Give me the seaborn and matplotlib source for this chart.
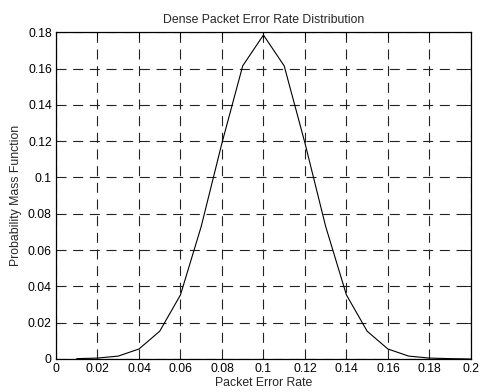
import numpy as np
import pandas as pd
import seaborn as sns
import matplotlib.pyplot as plt

# packet error rate vs pmf
per = [0.01, 0.02, 0.03, 0.04, 0.05, 0.06, 0.07, 0.08, 0.09, 0.10,
       0.11, 0.12, 0.13, 0.14, 0.15, 0.16, 0.17, 0.18, 0.19, 0.20]
pmf = [0.0002, 0.0005, 0.0016, 0.0055, 0.0153, 0.0353, 0.0730, 0.1190, 0.1615, 0.1785,
       0.1615, 0.1190, 0.0730, 0.0353, 0.0153, 0.0055, 0.0016, 0.0005, 0.0002, 0.0000]
xticks = [0, 0.02, 0.04, 0.06, 0.08, 0.1, 0.12, 0.14, 0.16, 0.18, 0.2]
yticks = [0, 0.02, 0.04, 0.06, 0.08, 0.1, 0.12, 0.14, 0.16, 0.18]

df = pd.DataFrame({'per': per, 'pmf': pmf})

sns.set_style('white')
plt.rcParams['font.family'] = ['Liberation Sans', 'DejaVu Sans']
plt.rcParams['font.size'] = 8.8

fig = plt.figure(figsize=(4.81, 3.92), dpi=100)
ax = fig.add_axes([0.1164, 0.0842, 0.8626, 0.8334])
sns.lineplot(data=df, x='per', y='pmf', color='black', linewidth=0.8, ax=ax)

ax.set_xlim(0, 0.2)
ax.set_ylim(0, 0.18)
ax.set_xticks(xticks)
ax.set_xticklabels([('%g' % v) for v in xticks])
ax.set_yticks(yticks)
ax.set_yticklabels([('%g' % v) for v in yticks])
ax.grid(True, color='#222222', linestyle=(0, (9, 6)), linewidth=0.8)
ax.tick_params(direction='in', length=4, width=0.6, top=True, right=True,
               labelsize=8.8, colors='black', pad=3)
for s in ax.spines.values():
    s.set_color('black')
    s.set_linewidth(0.9)

ax.set_title('Dense Packet Error Rate Distribution', fontsize=8.8, pad=7)
ax.set_xlabel('Packet Error Rate', fontsize=8.8, labelpad=1)
ax.set_ylabel('Probability Mass Function', fontsize=8.8, labelpad=4)

fig.savefig('out.png', dpi=100)
